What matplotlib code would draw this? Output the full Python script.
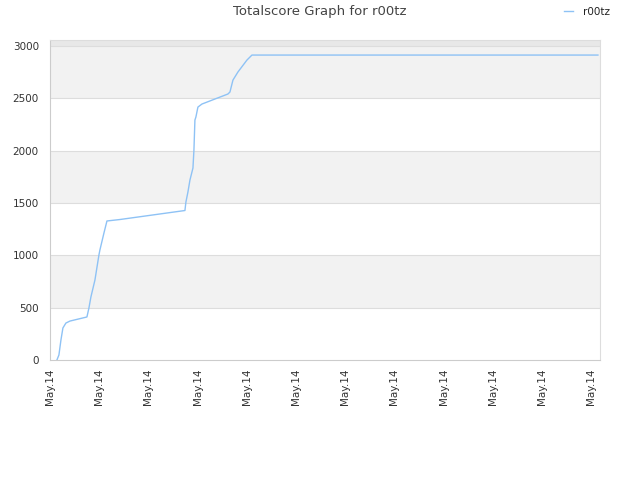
import matplotlib
matplotlib.use("Agg")
import matplotlib.pyplot as plt

# Score progression (x in tick-interval units, y = total score)
xs = [0.142, 0.183, 0.224, 0.264, 0.325, 0.407, 0.752, 0.793, 0.833, 0.915,
      0.996, 1.016, 1.098, 1.159, 1.423, 2.744, 2.764, 2.805, 2.846, 2.907,
      2.927, 2.947, 2.967, 3.008, 3.089, 3.618, 3.659, 3.720, 3.821, 4.004,
      4.106, 11.138]
scores = [0, 48, 191, 306, 353, 372, 411, 497, 602, 764,
          1003, 1051, 1213, 1328, 1342, 1428, 1509, 1605, 1719, 1834,
          2006, 2292, 2321, 2416, 2445, 2541, 2560, 2674, 2751, 2865,
          2913, 2913]

tick_labels = ["May.14"] * 12
y_ticks = [0, 500, 1000, 1500, 2000, 2500, 3000]

fig = plt.figure(figsize=(6.4, 4.8), dpi=100)
ax = fig.add_axes([0.078, 0.25, 0.8595, 0.6667])

ymax = 3057
# alternating bands
for lo in [500, 1500, 2500]:
    ax.axhspan(lo, lo + 500, color="#f2f2f2", zorder=0, lw=0)
ax.axhspan(3000, ymax, color="#e8e8e8", zorder=0, lw=0)
for yv in y_ticks[1:]:
    ax.axhline(yv, color="#dddddd", lw=0.8, zorder=1)

ax.plot(xs, scores, color="#8ec2f5", lw=1.0, zorder=3, label="r00tz")

ax.set_xlim(0, 11.18)
ax.set_ylim(0, ymax)
ax.set_xticks(range(12))
ax.set_xticklabels(tick_labels, rotation=90, fontsize=7.5, color="#333333")
ax.set_yticks(y_ticks)
ax.set_yticklabels([str(v) for v in y_ticks], fontsize=7.5, color="#333333")
ax.tick_params(axis="y", length=0, pad=8)
ax.tick_params(axis="x", length=0, pad=6)

for s in ["top", "right"]:
    ax.spines[s].set_color("#dddddd")
    ax.spines[s].set_linewidth(0.8)
ax.spines["left"].set_color("#cccccc")
ax.spines["bottom"].set_color("#cccccc")

fig.text(0.5, 0.99, "Totalscore Graph for r00tz", ha="center", va="top",
         fontsize=9.5, color="#444444")
leg = fig.legend(loc="upper right", bbox_to_anchor=(0.968, 1.005), frameon=False,
                 fontsize=7.5, handlelength=0.8, handletextpad=1.0)
for t in leg.get_texts():
    t.set_color("#222222")

fig.savefig("out.png", dpi=100)
